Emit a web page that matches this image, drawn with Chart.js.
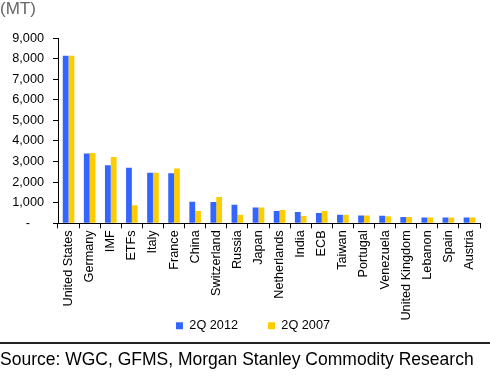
<!DOCTYPE html>
<html lang="en">
<head>
    <meta charset="UTF-8">
    <title>Gold holdings</title>
    <script src="https://cdn.jsdelivr.net/npm/chart.js"></script>
    <style>
        body { margin: 0; background: #fff; font-family: "Liberation Sans", Arial, sans-serif; }
        .wrap { position: relative; width: 490px; height: 378px; overflow: hidden; }
        #chart { position: absolute; left: 0; top: 0; }
        .unit { position: absolute; left: 0; top: 0; font-size: 17px; line-height: 1; color: #666; }
        .rule { position: absolute; left: 0; top: 342px; width: 490px; height: 2px; background: #222; }
        .source { position: absolute; left: 0; top: 351px; font-size: 17.5px; line-height: 1; color: #000; white-space: nowrap; }
    </style>
</head>
<body>
    <div class="wrap">
        <canvas id="chart" width="490" height="378"></canvas>
        <div class="unit">(MT)</div>
        <div class="rule"></div>
        <div class="source">Source: WGC, GFMS, Morgan Stanley Commodity Research</div>
    </div>
    <script>
        // data (metric tonnes)
        const holders = ['United States', 'Germany', 'IMF', 'ETFs', 'Italy', 'France', 'China',
            'Switzerland', 'Russia', 'Japan', 'Netherlands', 'India', 'ECB', 'Taiwan', 'Portugal',
            'Venezuela', 'United Kingdom', 'Lebanon', 'Spain', 'Austria'];
        const q2_2012 = [8134, 3396, 2814, 2700, 2452, 2435, 1050, 1035, 905, 770, 595, 545, 495, 415, 382, 362, 300, 287, 282, 282];
        const q2_2007 = [8134, 3417, 3217, 880, 2452, 2660, 595, 1275, 410, 765, 640, 350, 595, 410, 382, 345, 300, 287, 282, 282];
        const yTicks = [0, 1000, 2000, 3000, 4000, 5000, 6000, 7000, 8000, 9000];

        const font = { family: '"Liberation Sans", Arial, sans-serif', size: 12.7 };

        // legend sits closer to the axis labels than chart.js layout allows
        const nudgeLegend = {
            id: 'nudgeLegend',
            afterLayout(chart) {
                const l = chart.legend;
                l.left += 13; l.right += 13;
                l.top -= 32; l.bottom -= 32;
            }
        };

        new Chart(document.getElementById('chart'), {
            type: 'bar',
            data: {
                labels: holders,
                datasets: [
                    { label: '2Q 2012', data: q2_2012, backgroundColor: '#3366FF' },
                    { label: '2Q 2007', data: q2_2007, backgroundColor: '#FFCC00' }
                ]
            },
            plugins: [nudgeLegend],
            options: {
                responsive: false,
                devicePixelRatio: 1,
                animation: false,
                categoryPercentage: 0.55,
                barPercentage: 1.0,
                layout: { padding: { top: 38, right: 10, left: 0, bottom: 4 } },
                plugins: {
                    tooltip: { enabled: false },
                    legend: {
                        position: 'bottom',
                        labels: { boxWidth: 7, boxHeight: 7, padding: 30, color: '#000', font: font }
                    }
                },
                scales: {
                    x: {
                        afterFit: s => { s.height = 98; },
                        grid: { drawOnChartArea: false, tickLength: 5, color: '#000' },
                        border: { color: '#000' },
                        ticks: { color: '#000', font: font, minRotation: 90, maxRotation: 90, autoSkip: false, padding: 2 }
                    },
                    y: {
                        min: 0,
                        max: 9000,
                        afterFit: s => { s.width = 58; },
                        afterBuildTicks: s => { s.ticks = yTicks.map(v => ({ value: v })); },
                        grid: { drawOnChartArea: false, tickLength: 5, color: '#000' },
                        border: { color: '#000' },
                        ticks: {
                            color: '#000',
                            font: font,
                            padding: 9,
                            // excel style dash for zero, pushed left with figure spaces
                            callback: v => v === 0 ? '-\u2007\u2007' : v.toLocaleString('en-US')
                        }
                    }
                }
            }
        });
    </script>
</body>
</html>
